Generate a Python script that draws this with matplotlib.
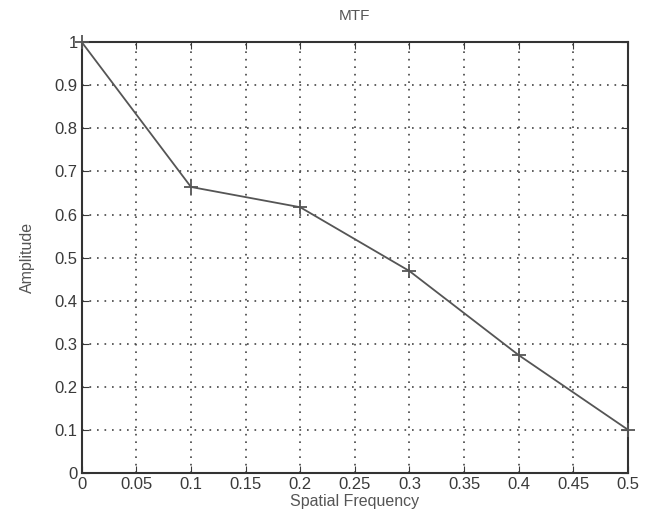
import numpy as np
import matplotlib.pyplot as plt

plt.rcParams['font.family'] = ['Liberation Sans', 'DejaVu Sans']

# MTF samples
freq = [0.0, 0.1, 0.2, 0.3, 0.4, 0.5]
amplitude = [1.0, 0.664, 0.617, 0.469, 0.274, 0.101]

xticks = [0, 0.05, 0.1, 0.15, 0.2, 0.25, 0.3, 0.35, 0.4, 0.45, 0.5]
xtick_labels = ['0', '0.05', '0.1', '0.15', '0.2', '0.25', '0.3', '0.35', '0.4', '0.45', '0.5']
yticks = [0, 0.1, 0.2, 0.3, 0.4, 0.5, 0.6, 0.7, 0.8, 0.9, 1]
ytick_labels = ['0', '0.1', '0.2', '0.3', '0.4', '0.5', '0.6', '0.7', '0.8', '0.9', '1']

fig = plt.figure(figsize=(6.54, 5.2), dpi=100)
ax = fig.add_axes([0.125, 0.090, 0.835, 0.829])

ax.plot(freq, amplitude, color='#555555', lw=1.3, marker='+', ms=10, mew=1.3,
        clip_on=False, zorder=5)

ax.set_xlim(0, 0.5)
ax.set_ylim(0, 1)
ax.set_xticks(xticks)
ax.set_xticklabels(xtick_labels)
ax.set_yticks(yticks)
ax.set_yticklabels(ytick_labels)

ax.grid(True, ls=(0, (1, 3.5)), color='#444444', lw=1.2)
ax.tick_params(direction='in', length=5, top=True, right=True,
               labelsize=12, colors='#3a3a3a', pad=3)
for s in ax.spines.values():
    s.set_color('#333333')
    s.set_linewidth(1.5)

ax.set_title('MTF', fontsize=11, color='#555555', pad=16)
ax.set_xlabel('Spatial Frequency', fontsize=11.5, color='#555555', labelpad=1)
ax.set_ylabel('Amplitude', fontsize=11.5, color='#555555', labelpad=14)

fig.savefig('out.png', dpi=100)
